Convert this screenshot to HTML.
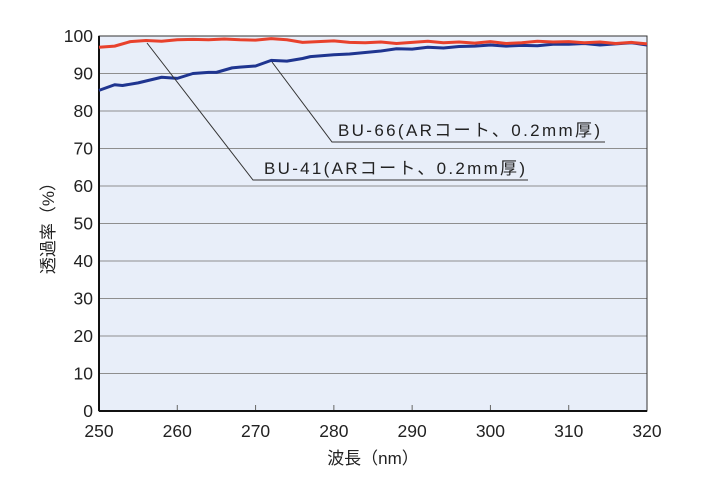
<!DOCTYPE html>
<html><head><meta charset="utf-8"><style>
body{margin:0;background:#fff;}
svg text{font-family:"Liberation Sans","Noto Sans CJK JP",sans-serif;fill:#222;}
</style></head><body>
<svg width="720" height="480" viewBox="0 0 720 480" xmlns="http://www.w3.org/2000/svg">
<g id="chart"></g>
</svg>
<script>
const xTicks=[250,260,270,280,290,300,310,320];
const yTicks=[0,10,20,30,40,50,60,70,80,90,100];
const wl66=[250,252,254,256,258,260,262,264,266,268,270,272,274,276,278,280,282,284,286,288,290,292,294,296,298,300,302,304,306,308,310,312,314,316,318,320];
const bu66=[97,97.3,98.5,98.8,98.6,99,99.1,99,99.2,99,98.9,99.3,99,98.3,98.5,98.7,98.3,98.2,98.4,98,98.3,98.6,98.2,98.4,98.1,98.5,98,98.2,98.6,98.4,98.5,98.2,98.4,98,98.3,97.9];
const wl41=[250,252,253,255,257,258,260,262,264,265,267,268,270,272,274,276,277,280,282,284,286,288,290,292,294,296,298,300,302,304,306,308,310,312,314,316,318,320];
const bu41=[85.5,87,86.8,87.5,88.5,89,88.7,90,90.3,90.3,91.5,91.7,92,93.5,93.3,94,94.5,95,95.2,95.6,96,96.6,96.5,97,96.8,97.2,97.3,97.6,97.3,97.5,97.4,97.8,97.8,98,97.6,97.9,98.2,97.6];
const X0=99,X1=647,Y0=411,Y1=36;
const sx=v=>X0+(v-250)/(70)*(X1-X0);
const sy=v=>Y0-v/100*(Y0-Y1);
const g=document.getElementById('chart');
const NS='http://www.w3.org/2000/svg';
function mk(t,a){const e=document.createElementNS(NS,t);for(const k in a)e.setAttribute(k,a[k]);g.appendChild(e);return e;}
let bg=mk('rect',{x:X0,y:Y1,width:X1-X0,height:Y0-Y1,fill:'#e8eef9'});


yTicks.forEach(v=>{
 if(v>0&&v<100){let l=mk('line',{x1:X0,x2:X1,y1:sy(v),y2:sy(v),stroke:'#8e8e8e','stroke-width':1});
 
 }
 let t=mk('text',{x:X0-6,y:sy(v)+6,'text-anchor':'end','font-size':17.5});t.textContent=v;
 
 
});
xTicks.forEach(v=>{
 let l=mk('line',{x1:sx(v),x2:sx(v),y1:Y0,y2:Y0-6,stroke:'#666','stroke-width':1});
 
 
 let t=mk('text',{x:sx(v),y:Y0+26,'text-anchor':'middle','font-size':17.5});t.textContent=v;
 
 
});
let fr=mk('rect',{x:X0,y:Y1,width:X1-X0,height:Y0-Y1,fill:'none',stroke:'#333','stroke-width':1});


let ax=mk('line',{x1:X0,x2:X1,y1:Y0,y2:Y0,stroke:'#111','stroke-width':2});


let ay=mk('line',{x1:X0,x2:X0,y1:Y1,y2:Y0,stroke:'#111','stroke-width':2});


function series(xs,ys,c,n){let p=mk('polyline',{points:xs.map((x,i)=>sx(x)+','+sy(ys[i])).join(' '),fill:'none',stroke:c,'stroke-width':3,'stroke-linejoin':'round'});
 
 }
series(wl41,bu41,'#1f3590','series-bu-41');
series(wl66,bu66,'#e8412c','series-bu-66');
let a1=mk('polyline',{points:'147,43 253,180 528,180',fill:'none',stroke:'#333','stroke-width':1});


let a2=mk('polyline',{points:'272,62 332,142 605,142',fill:'none',stroke:'#333','stroke-width':1});


let t1=mk('text',{x:264,y:174,'font-size':17,textLength:261,lengthAdjust:'spacing'});t1.textContent='BU-41(ARコート、0.2mm厚)';


let t2=mk('text',{x:338,y:136,'font-size':17,textLength:262,lengthAdjust:'spacing'});t2.textContent='BU-66(ARコート、0.2mm厚)';


let xt=mk('text',{x:373,y:464,'text-anchor':'middle','font-size':17});xt.textContent='波長（nm）';


let yt=mk('text',{x:0,y:0,'text-anchor':'middle','font-size':17,transform:'translate(54,224) rotate(-90)'});yt.textContent='透過率（%）';


</script>
</body></html>
